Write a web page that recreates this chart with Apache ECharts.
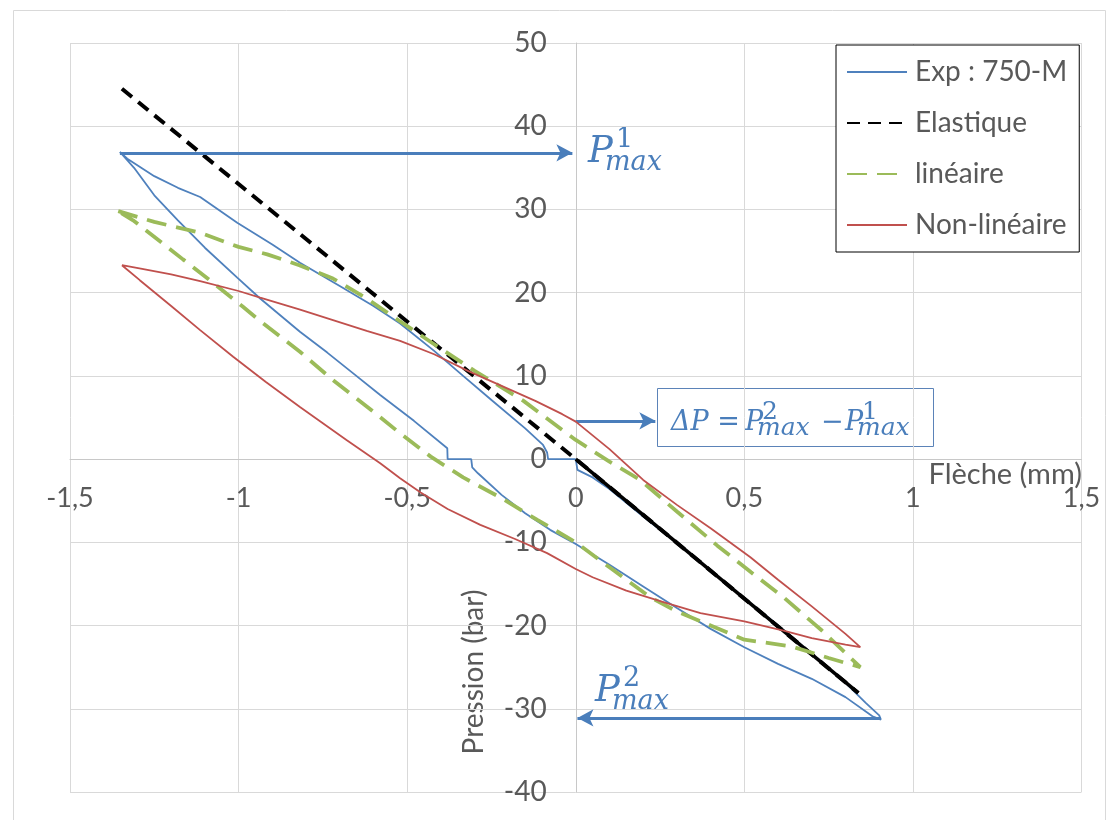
<!DOCTYPE html>
<html>
<head>
<meta charset="utf-8">
<script src="https://cdn.jsdelivr.net/npm/echarts@6/dist/echarts.min.js"></script>
<style>
html,body{margin:0;padding:0;background:#fff;}
#chart{width:1118px;height:820px;}
</style>
</head>
<body>
<div id="chart"></div>
<script>
// ---------- DATA ----------
const xTicks = [-1.5, -1, -0.5, 0, 0.5, 1, 1.5];
const yTicks = [-40, -30, -20, -10, 0, 10, 20, 30, 40, 50];
const seriesNames = ['Exp : 750-M', 'Elastique', 'linéaire', 'Non-linéaire'];
const xTitle = 'Flèche (mm)';
const yTitle = 'Pression (bar)';

// Experimental loop (Flèche mm, Pression bar)
const expLoop = [
  [0,0],[0.005,-1.3],[0.05,-2.2],[0.1,-3.6],[0.2,-6.9],[0.3,-10.1],[0.4,-13.4],[0.5,-16.7],
  [0.6,-20.0],[0.7,-23.4],[0.8,-26.9],[0.86,-29.3],[0.9,-30.8],[0.905,-31.3],
  [0.88,-30.9],[0.8,-28.6],[0.7,-26.4],[0.6,-24.6],[0.5,-22.6],[0.4,-20.4],[0.3,-17.9],
  [0.2,-15.3],[0.1,-12.7],[0,-10.2],[-0.076,-8.5],[-0.15,-6.5],[-0.22,-4.3],[-0.29,-1.7],
  [-0.307,-1.0],[-0.31,0],[-0.38,0],[-0.381,1.3],
  [-0.48,4.6],[-0.58,7.7],[-0.66,10.3],[-0.737,12.8],[-0.818,15.3],[-0.936,19.3],
  [-1.004,21.8],[-1.1,25.4],[-1.18,28.7],[-1.25,31.7],[-1.31,35.0],[-1.352,36.9],
  [-1.33,36.1],[-1.25,34.0],[-1.18,32.6],[-1.114,31.5],[-1.004,28.4],[-0.9,25.8],
  [-0.818,23.6],[-0.7,20.8],[-0.6,18.4],[-0.521,16.3],[-0.42,13.0],[-0.334,10.0],
  [-0.25,7.1],[-0.15,3.7],[-0.097,1.7],[-0.085,0.8],[-0.082,0],[0,0]
];
// Elastic model (straight line through origin)
const elasticLine = [[-1.346,44.5],[0,0],[0.838,-28.1]];
const elasticReturn = [[0,0],[0.838,-28.1]];
// Linear model loop
const linearLoop = [
  [-1.357,29.8],[-1.25,28.5],[-1.114,27.2],[-1.0,25.5],[-0.915,24.6],[-0.82,23.3],
  [-0.72,21.7],[-0.62,19.3],[-0.53,16.8],[-0.42,13.8],[-0.3,10.6],[-0.155,7.0],[0,2.3],
  [0.1,-0.3],[0.191,-2.5],[0.3,-6.3],[0.42,-10.4],[0.52,-13.6],[0.616,-16.6],[0.73,-20.6],
  [0.844,-25.0],[0.75,-23.9],[0.64,-22.5],[0.5,-21.7],[0.4,-20.0],[0.3,-18.3],[0.221,-16.6],
  [0.1,-13.0],[0,-10.0],[-0.114,-7.3],[-0.22,-4.7],[-0.334,-2.2],[-0.43,0.3],[-0.521,3.1],
  [-0.619,6.3],[-0.72,9.5],[-0.818,12.9],[-0.936,16.6],[-0.987,18.3],[-1.085,21.5],
  [-1.165,24.0],[-1.313,28.7],[-1.357,29.8]
];
// Non-linear model loop
const nonLinearLoop = [
  [-1.346,23.3],[-1.29,22.9],[-1.2,22.2],[-1.114,21.4],[-1.0,20.2],[-0.936,19.4],[-0.82,18.0],
  [-0.72,16.7],[-0.62,15.4],[-0.521,14.2],[-0.42,12.6],[-0.32,10.6],[-0.22,8.8],[-0.12,7.0],
  [-0.04,5.4],[0,4.5],[0.1,1.2],[0.2,-2.5],[0.3,-5.5],[0.4,-8.3],[0.518,-11.8],[0.6,-14.5],
  [0.7,-17.7],[0.8,-21.0],[0.844,-22.6],[0.8,-22.3],[0.7,-21.5],[0.616,-20.6],[0.5,-19.5],
  [0.37,-18.5],[0.27,-17.3],[0.15,-15.8],[0.05,-14.2],[0,-13.2],[-0.085,-11.3],[-0.18,-9.6],
  [-0.283,-7.9],[-0.38,-6.0],[-0.46,-4.0],[-0.521,-2.3],[-0.58,-0.5],[-0.68,2.3],[-0.818,6.25],
  [-0.92,9.3],[-1.016,12.3],[-1.114,15.5],[-1.2,18.4],[-1.293,21.5],[-1.346,23.3]
];
// Annotation arrows [from, to]
const arrowP1 = [[-1.352,36.8],[-0.01,36.8]];
const arrowDelta = [[0,4.6],[0.236,4.6]];
const arrowP2 = [[0.905,-31.1],[0.005,-31.1]];

// ---------- CHART ----------
const FONT = 'Lato';
const TXT = '#595959';
const BLUE = '#4A7EBB';
const GRID = {left:70, right:36.5, top:43, bottom:28};
const W = 1118, H = 820;
const chart = echarts.init(document.getElementById('chart'), null, {renderer:'canvas'});

// axis offsets so that the axes cross at the origin
const plotW = W - GRID.left - GRID.right, plotH = H - GRID.top - GRID.bottom;
const xMin = xTicks[0], xMax = xTicks[xTicks.length-1];
const yMin = yTicks[0], yMax = yTicks[yTicks.length-1];
const zeroX = GRID.left + (0 - xMin) / (xMax - xMin) * plotW;
const zeroY = GRID.top + (yMax - 0) / (yMax - yMin) * plotH;
const xAxisOffset = -((H - GRID.bottom) - zeroY);
const yAxisOffset = -(zeroX - GRID.left);

function arrowLine(pts){
  return [{coord: pts[0]}, {coord: pts[1]}];
}
const MATHF = '"DejaVu Serif"';
function mathText(x, baseline, main, sup, sub, mainSize, smallSize, supDx, subDx){
  const els = [];
  const mid = (b, s) => b - 0.34 * s;
  els.push({type:'text', silent:true, style:{text:main, x:x, y:mid(baseline, mainSize),
    font:'italic ' + mainSize + 'px ' + MATHF, fill:BLUE, textAlign:'left', textVerticalAlign:'middle'}});
  els.push({type:'text', silent:true, style:{text:sup, x:x + supDx, y:mid(baseline - 0.42*mainSize, smallSize),
    font:smallSize + 'px ' + MATHF, fill:BLUE, textAlign:'left', textVerticalAlign:'middle'}});
  els.push({type:'text', silent:true, style:{text:sub, x:x + subDx, y:mid(baseline + 0.2*mainSize, smallSize),
    font:'italic ' + smallSize + 'px ' + MATHF, fill:BLUE, textAlign:'left', textVerticalAlign:'middle'}});
  return els;
}

const graphics = [
  {type:'rect', silent:true, z:-10, shape:{x:13.5, y:10.5, width:1092, height:830},
   style:{fill:'none', stroke:'#D9D9D9', lineWidth:1}},
  {type:'text', silent:true, rotation:Math.PI/2, x:474, y:672,
   style:{text:yTitle, font:'28px ' + FONT, fill:TXT, textAlign:'center', textVerticalAlign:'middle'}},
  {type:'text', silent:true, x:1082, y:475,
   style:{text:xTitle, font:'29px ' + FONT, fill:TXT, textAlign:'right', textVerticalAlign:'middle'}},
  {type:'rect', silent:true, shape:{x:657.5, y:388.5, width:276, height:58},
   style:{fill:'none', stroke:'#5B83B8', lineWidth:1}},
  {type:'text', silent:true, style:{text:'ΔP = ', x:671, y:432 - 0.34*27,
   font:'italic 27px ' + MATHF, fill:BLUE, textAlign:'left', textVerticalAlign:'middle'}},
  {type:'text', silent:true, style:{text:'−', x:821, y:432 - 0.34*27,
   font:'27px ' + MATHF, fill:BLUE, textAlign:'left', textVerticalAlign:'middle'}}
].concat(
  mathText(588, 165, 'P', '1', 'max', 37, 27, 28, 17),
  mathText(595, 704, 'P', '2', 'max', 37, 27, 28, 17),
  mathText(745, 432, 'P', '2', 'max', 27, 25, 17, 12),
  mathText(845, 432, 'P', '1', 'max', 27, 25, 17, 12)
);

const option = {
  animation: false,
  backgroundColor: '#fff',
  textStyle: {fontFamily: FONT},
  grid: {left:GRID.left, right:GRID.right, top:GRID.top, bottom:GRID.bottom,
         containLabel:false, outerBoundsMode:'none'},
  legend: {
    data: seriesNames,
    orient: 'vertical',
    left: 836, top: 45,
    padding: [13, 12, 13, 10],
    itemGap: 23,
    itemWidth: 60, itemHeight: 14,
    borderColor: '#000', borderWidth: 1,
    backgroundColor: '#fff',
    selectedMode: false,
    itemStyle: {opacity: 0},
    textStyle: {fontFamily: FONT, fontSize: 28, color: TXT, lineHeight: 28, padding:[0,0,0,3]}
  },
  xAxis: {
    type: 'value', min: xMin, max: xMax, interval: 0.5,
    position: 'bottom', offset: xAxisOffset,
    axisLine: {onZero: false, lineStyle: {color: '#C8C8C8', width: 1}},
    axisTick: {show: false},
    axisLabel: {fontFamily: FONT, fontSize: 27, color: TXT, margin: 26,
      formatter: v => String(v).replace('.', ',')},
    splitLine: {show: true, lineStyle: {color: '#D9D9D9', width: 1}}
  },
  yAxis: {
    type: 'value', min: yMin, max: yMax, interval: 10,
    position: 'left', offset: yAxisOffset,
    axisLine: {onZero: false, lineStyle: {color: '#C8C8C8', width: 1}},
    axisTick: {show: false},
    axisLabel: {fontFamily: FONT, fontSize: 28, color: TXT, margin: 29,
      formatter: v => String(v).replace('.', ',')},
    splitLine: {show: true, lineStyle: {color: '#D9D9D9', width: 1}}
  },
  series: [
    {
      name: seriesNames[0], type: 'line', data: expLoop, symbol: 'none', showSymbol: false,
      lineStyle: {color: '#4F81BD', width: 1.8}, itemStyle: {color: '#4F81BD'}, z: 2,
      markLine: {
        silent: true, symbol: ['none', 'arrow'], symbolSize: [13, 16],
        label: {show: false},
        lineStyle: {color: BLUE, width: 3, type: 'solid'},
        data: [arrowLine(arrowP1), arrowLine(arrowDelta), arrowLine(arrowP2)]
      }
    },
    {
      name: seriesNames[1], type: 'line', data: elasticLine, symbol: 'none', showSymbol: false,
      lineStyle: {color: '#000', width: 4, type: [13, 8]}, itemStyle: {color: '#000'}, z: 3
    },
    {
      name: 'Elastique (retour)', type: 'line', data: elasticReturn, symbol: 'none', showSymbol: false,
      lineStyle: {color: '#000', width: 3.5, type: 'solid'}, itemStyle: {color: '#000'}, z: 3
    },
    {
      name: seriesNames[2], type: 'line', data: linearLoop, symbol: 'none', showSymbol: false,
      lineStyle: {color: '#9BBB59', width: 3.8, type: [20, 10]}, itemStyle: {color: '#9BBB59'}, z: 4
    },
    {
      name: seriesNames[3], type: 'line', data: nonLinearLoop, symbol: 'none', showSymbol: false,
      lineStyle: {color: '#C0504D', width: 1.8}, itemStyle: {color: '#C0504D'}, z: 5
    }
  ],
  graphic: graphics
};
chart.setOption(option);
</script>
</body>
</html>
